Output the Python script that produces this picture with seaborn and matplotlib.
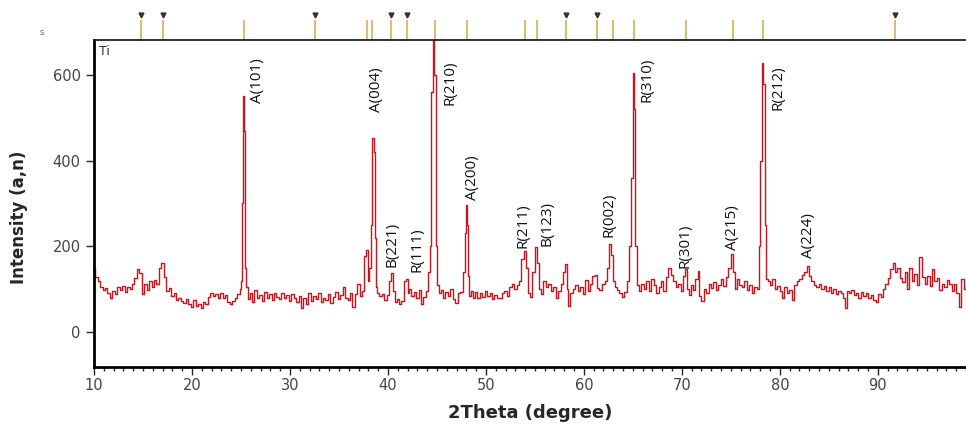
import numpy as np
import pandas as pd
import matplotlib.pyplot as plt
import seaborn as sns

# XRD scan (2theta in degrees, counts)
two_theta = [
    10.00, 10.25, 10.50, 10.75, 11.00, 11.25, 11.50, 11.75, 12.00, 12.25,
    12.50, 12.75, 13.00, 13.25, 13.50, 13.75, 14.00, 14.25, 14.50, 14.75,
    15.00, 15.25, 15.50, 15.75, 16.00, 16.25, 16.50, 16.75, 17.00, 17.25,
    17.50, 17.75, 18.00, 18.25, 18.50, 18.75, 19.00, 19.25, 19.50, 19.75,
    20.00, 20.25, 20.50, 20.75, 21.00, 21.25, 21.50, 21.75, 22.00, 22.25,
    22.50, 22.75, 23.00, 23.25, 23.50, 23.75, 24.00, 24.25, 24.50, 24.75,
    25.00, 25.10, 25.20, 25.28, 25.36, 25.45, 25.60, 25.75, 26.00, 26.25,
    26.50, 26.75, 27.00, 27.25, 27.50, 27.75, 28.00, 28.25, 28.50, 28.75,
    29.00, 29.25, 29.50, 29.75, 30.00, 30.25, 30.50, 30.75, 31.00, 31.25,
    31.50, 31.75, 32.00, 32.25, 32.50, 32.75, 33.00, 33.25, 33.50, 33.75,
    34.00, 34.25, 34.50, 34.75, 35.00, 35.25, 35.50, 35.75, 36.00, 36.25,
    36.50, 36.75, 37.00, 37.25, 37.50, 37.70, 37.85, 38.00, 38.20, 38.35,
    38.50, 38.60, 38.70, 38.85, 39.00, 39.25, 39.50, 39.75, 40.00, 40.25,
    40.40, 40.60, 40.80, 41.00, 41.25, 41.50, 41.75, 41.90, 42.10, 42.30,
    42.50, 42.75, 43.00, 43.25, 43.50, 43.75, 44.00, 44.20, 44.35, 44.50,
    44.65, 44.80, 44.95, 45.10, 45.25, 45.50, 45.75, 46.00, 46.25, 46.50,
    46.75, 47.00, 47.25, 47.50, 47.75, 47.90, 48.00, 48.10, 48.25, 48.40,
    48.60, 48.80, 49.00, 49.25, 49.50, 49.75, 50.00, 50.25, 50.50, 50.75,
    51.00, 51.25, 51.50, 51.75, 52.00, 52.25, 52.50, 52.75, 53.00, 53.25,
    53.50, 53.75, 53.95, 54.15, 54.40, 54.60, 54.85, 55.10, 55.30, 55.50,
    55.75, 56.00, 56.25, 56.50, 56.75, 57.00, 57.25, 57.50, 57.75, 58.00,
    58.15, 58.35, 58.50, 58.75, 59.00, 59.25, 59.50, 59.75, 60.00, 60.25,
    60.50, 60.75, 61.00, 61.20, 61.40, 61.75, 62.00, 62.25, 62.50, 62.70,
    62.85, 63.00, 63.25, 63.50, 63.75, 64.00, 64.25, 64.50, 64.75, 64.90,
    65.05, 65.15, 65.30, 65.50, 65.75, 66.00, 66.25, 66.50, 66.75, 67.00,
    67.25, 67.50, 67.75, 68.00, 68.25, 68.50, 68.75, 69.00, 69.25, 69.50,
    69.75, 70.00, 70.25, 70.40, 70.60, 70.80, 71.00, 71.25, 71.50, 71.70,
    71.90, 72.10, 72.35, 72.60, 72.85, 73.10, 73.35, 73.60, 73.85, 74.10,
    74.35, 74.60, 74.85, 75.10, 75.30, 75.50, 75.75, 76.00, 76.25, 76.50,
    76.75, 77.00, 77.25, 77.50, 77.75, 77.95, 78.10, 78.25, 78.40, 78.55,
    78.70, 78.90, 79.10, 79.35, 79.60, 79.85, 80.10, 80.35, 80.60, 80.85,
    81.10, 81.35, 81.60, 81.85, 82.10, 82.35, 82.60, 82.85, 83.10, 83.35,
    83.60, 83.85, 84.10, 84.35, 84.60, 84.85, 85.10, 85.35, 85.60, 85.85,
    86.10, 86.35, 86.60, 86.75, 86.90, 87.15, 87.40, 87.65, 87.90, 88.15,
    88.40, 88.65, 88.90, 89.15, 89.40, 89.65, 89.90, 90.15, 90.40, 90.65,
    90.90, 91.15, 91.40, 91.60, 91.85, 92.10, 92.35, 92.60, 92.85, 93.10,
    93.35, 93.60, 93.85, 94.10, 94.40, 94.65, 94.90, 95.15, 95.40, 95.65,
    95.90, 96.15, 96.40, 96.65, 96.90, 97.15, 97.40, 97.65, 97.90, 98.15,
    98.40, 98.65, 98.90, 99.15,
]
intensity = [
    150, 128, 118, 104, 98, 102, 92, 78, 96, 88,
    104, 97, 108, 94, 106, 100, 112, 126, 146, 138,
    88, 112, 98, 118, 104, 122, 112, 150, 162, 128,
    96, 102, 84, 90, 74, 80, 72, 68, 76, 66,
    58, 74, 60, 66, 56, 70, 64, 82, 90, 84,
    88, 78, 92, 80, 86, 70, 64, 72, 78, 88,
    100, 118, 300, 551, 470, 150, 104, 76, 92, 70,
    98, 78, 86, 72, 94, 80, 88, 74, 90, 82,
    76, 92, 80, 86, 72, 88, 78, 70, 84, 56,
    78, 66, 90, 72, 84, 76, 92, 70, 80, 74,
    88, 68, 82, 94, 76, 86, 106, 80, 74, 92,
    58, 88, 112, 84, 96, 178, 192, 120, 150, 250,
    452, 420, 220, 104, 92, 84, 88, 74, 86, 120,
    138, 96, 70, 76, 64, 72, 118, 124, 92, 100,
    84, 94, 80, 98, 66, 82, 96, 140, 200, 560,
    720, 600, 200, 110, 90, 98, 80, 94, 84, 100,
    76, 68, 90, 94, 140, 230, 296, 250, 130, 84,
    96, 80, 94, 78, 90, 82, 96, 84, 92, 76,
    86, 80, 78, 90, 96, 84, 104, 112, 100, 110,
    120, 170, 188, 150, 92, 82, 140, 198, 160, 100,
    88, 118, 106, 112, 96, 104, 80, 96, 112, 140,
    158, 100, 60, 92, 100, 110, 96, 104, 88, 122,
    96, 112, 130, 134, 102, 98, 112, 120, 150, 205,
    180, 120, 106, 98, 90, 82, 94, 118, 200, 360,
    605, 520, 200, 110, 96, 112, 100, 118, 96, 124,
    110, 92, 104, 118, 96, 128, 150, 134, 120, 104,
    112, 96, 130, 148, 100, 86, 110, 98, 124, 143,
    84, 72, 100, 90, 112, 102, 116, 98, 110, 124,
    108, 128, 150, 183, 140, 100, 124, 110, 104, 120,
    98, 110, 92, 104, 100, 200, 400, 628, 580, 250,
    124, 118, 110, 124, 100, 108, 96, 78, 104, 90,
    98, 75, 110, 118, 124, 132, 140, 153, 130, 118,
    110, 106, 112, 100, 108, 96, 104, 92, 100, 88,
    96, 90, 80, 56, 96, 90, 98, 86, 92, 80,
    94, 84, 90, 78, 86, 74, 69, 88, 82, 100,
    112, 126, 146, 162, 140, 150, 127, 116, 140, 100,
    150, 120, 136, 110, 176, 128, 111, 130, 108, 146,
    120, 126, 97, 112, 104, 122, 111, 96, 112, 90,
    59, 124, 100, 110,
]

# reference pattern sticks on top (2theta), and which ones carry a marker
ref_positions = [14.8, 17.0, 25.3, 32.6, 37.9, 38.4, 40.3, 41.9, 44.8, 48.1,
                 54.0, 55.2, 58.2, 61.3, 63.0, 65.1, 70.4, 75.2, 78.3, 91.8]
ref_marked = [14.8, 17.0, 32.6, 40.3, 41.9, 58.2, 61.3, 91.8]

# peak labels: text, 2theta, intensity at bottom of text
peak_names = ['A(101)', 'A(004)', 'B(221)', 'R(111)', 'R(210)', 'A(200)', 'R(211)',
              'B(123)', 'R(002)', 'R(310)', 'R(301)', 'A(215)', 'R(212)', 'A(224)']
peak_x = [26.65, 38.8, 40.4, 43.0, 46.3, 48.6, 53.8, 56.2, 62.6, 66.4, 70.3, 75.2, 79.8, 82.9]
peak_y = [535, 514, 152, 140, 530, 308, 196, 201, 222, 537, 149, 191, 518, 173]

assert len(two_theta) == len(intensity)

sns.set_style('ticks')
plt.rcParams['font.family'] = ['DejaVu Sans']

fig = plt.figure(figsize=(9.66, 4.25), dpi=100)
ax = fig.add_axes([0.0973, 0.1365, 0.9027, 0.7695])

df = pd.DataFrame({'two_theta': two_theta, 'intensity': intensity})
sns.lineplot(data=df, x='two_theta', y='intensity', ax=ax, color='#c8141c',
             linewidth=1.0, estimator=None, sort=False, drawstyle='steps-mid')

ax.set_xlim(10, 99)
ax.set_ylim(-82, 682)
ax.set_xticks(range(10, 100, 10))
ax.set_xticks(range(10, 100, 1), minor=True)
ax.set_yticks([0, 200, 400, 600])
ax.tick_params(axis='both', which='major', labelsize=10.5, labelcolor='#444444',
               direction='out', length=6, width=1)
ax.tick_params(axis='x', which='major', pad=2)
ax.tick_params(axis='x', which='minor', direction='out', length=3, width=1)

for side in ['left', 'bottom']:
    ax.spines[side].set_linewidth(2.0)
    ax.spines[side].set_color('black')
ax.spines['top'].set_linewidth(1.3)
ax.spines['top'].set_color('#222222')
ax.spines['right'].set_visible(False)

ax.set_xlabel('2Theta (degree)', fontsize=13, fontweight='bold', labelpad=8)
ax.set_ylabel('Intensity (a,n)', fontsize=12, fontweight='bold')
ax.yaxis.set_label_coords(-0.076, 0.459)

# stick pattern above the frame
trans = ax.get_xaxis_transform()
ax.vlines(ref_positions, 1.0, 1.061, transform=trans, colors='#dcbc78',
          linewidth=1.5, clip_on=False)
ax.plot(ref_marked, [1.075] * len(ref_marked), transform=trans, linestyle='none',
        marker='v', markersize=3.5, color='#333333', clip_on=False)

for name, px, py in zip(peak_names, peak_x, peak_y):
    ax.text(px, py, name, rotation=90, ha='center', va='bottom', fontsize=11,
            family=['Open Sans', 'DejaVu Sans'], color='#111111')

ax.text(0.006, 0.985, 'Ti', transform=ax.transAxes, ha='left', va='top',
        fontsize=9, color='#333333')
fig.text(0.041, 0.918, 's', fontsize=6, color='#666666')

fig.savefig('out.png', dpi=100)
